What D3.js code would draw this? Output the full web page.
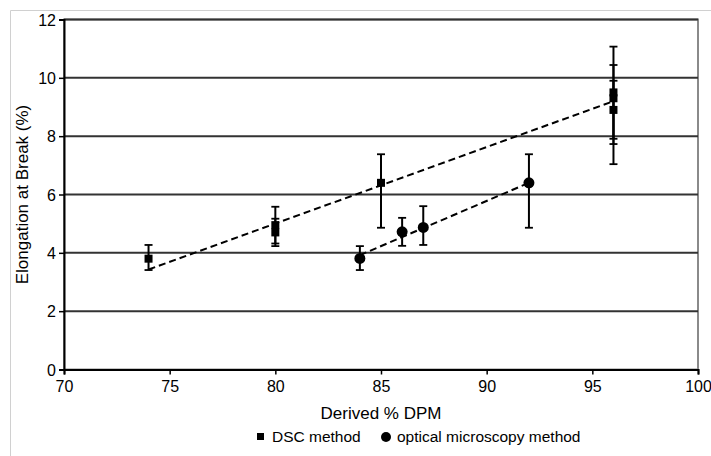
<!DOCTYPE html>
<html><head><meta charset="utf-8">
<script src="https://cdn.jsdelivr.net/npm/d3@7"></script>
<style>body{margin:0;background:#fff}svg{display:block;font-family:"Liberation Sans",Arial,sans-serif}</style>
</head><body><svg id="c" width="711" height="456"></svg>
<script>
// DSC method
const dscX  = [74, 80, 80, 85, 96, 96, 96];
const dscY  = [3.8, 4.95, 4.7, 6.4, 9.5, 9.3, 8.9];
const dscLo = [3.41, 4.32, 4.23, 4.86, 7.91, 7.73, 7.04];
const dscHi = [4.27, 5.58, 5.17, 7.38, 11.07, 10.44, 9.9];
// optical microscopy method
const optX  = [84, 86, 87, 92];
const optY  = [3.81, 4.72, 4.87, 6.4];
const optLo = [3.41, 4.24, 4.27, 4.86];
const optHi = [4.23, 5.2, 5.6, 7.38];
// trend lines (endpoints)
const dscTrendX = [74, 96], dscTrendY = [3.43, 9.2];
const optTrendX = [84, 92], optTrendY = [3.92, 6.4];
const xTicks = [70, 75, 80, 85, 90, 95, 100];
const yTicks = [0, 2, 4, 6, 8, 10, 12];
const legendLabels = ["DSC method", "optical microscopy method"];

const svg = d3.select("#c");
const L = 64, R = 698, T = 19.5, B = 369.5;
const x = d3.scaleLinear().domain([70, 100]).range([L, R]);
const y = d3.scaleLinear().domain([0, 12]).range([B, T]);

// outer frame
svg.append("path").attr("d", `M10.5,456 V10.5 H711`).attr("fill","none").attr("stroke","#d0d0d0").attr("stroke-width",1);

// plot border
svg.append("rect").attr("x", L).attr("y", T).attr("width", R - L).attr("height", B - T)
  .attr("fill","none").attr("stroke","#8a8a8a").attr("stroke-width",2);

// gridlines
svg.append("g").selectAll("line").data(yTicks.filter(d => d > 0)).join("line")
  .attr("x1", L).attr("x2", R).attr("y1", d => y(d)).attr("y2", d => y(d))
  .attr("stroke", "#333").attr("stroke-width", 2);

// axes
const yAxis = svg.append("g").attr("transform", `translate(${L},0)`)
  .call(d3.axisLeft(y).tickValues(yTicks).tickSize(5).tickPadding(3).tickFormat(d3.format("d")));
const xAxis = svg.append("g").attr("transform", `translate(0,${B})`)
  .call(d3.axisBottom(x).tickValues(xTicks).tickSize(5).tickPadding(6).tickFormat(d3.format("d")));
[yAxis, xAxis].forEach(g => {
  g.select(".domain").attr("stroke", "#000").attr("stroke-width", 2);
  g.selectAll(".tick line").attr("stroke", "#000").attr("stroke-width", 1.5);
  g.selectAll(".tick text").attr("fill", "#000").style("font-size", "16px")
   .style("font-family", "Liberation Sans, Arial, sans-serif");
});
yAxis.selectAll(".tick text").attr("dy", "0.36em");

// axis titles
svg.append("text").attr("x", x(85)).attr("y", 419).attr("text-anchor", "middle")
  .style("font-size", "17px").text("Derived % DPM");
svg.append("text").attr("transform", `translate(28,${(T + B) / 2}) rotate(-90)`)
  .attr("text-anchor", "middle").style("font-size", "17px").text("Elongation at Break (%)");

// trend lines
const line = d3.line().x(d => x(d[0])).y(d => y(d[1]));
svg.append("path").attr("d", line(d3.zip(dscTrendX, dscTrendY)))
  .attr("fill","none").attr("stroke","#000").attr("stroke-width",2).attr("stroke-dasharray","7,4");
svg.append("path").attr("d", line(d3.zip(optTrendX, optTrendY)))
  .attr("fill","none").attr("stroke","#000").attr("stroke-width",2).attr("stroke-dasharray","7,4");

// error bars
function errBars(xs, lo, hi) {
  const g = svg.append("g").attr("stroke", "#000");
  xs.forEach((xv, i) => {
    g.append("line").attr("x1", x(xv)).attr("x2", x(xv)).attr("y1", y(lo[i])).attr("y2", y(hi[i])).attr("stroke-width", 2);
    [lo[i], hi[i]].forEach(v => g.append("line").attr("x1", x(xv) - 4).attr("x2", x(xv) + 4)
      .attr("y1", y(v)).attr("y2", y(v)).attr("stroke-width", 1.8));
  });
}
errBars(dscX, dscLo, dscHi);
errBars(optX, optLo, optHi);

// markers
svg.append("g").selectAll("rect").data(d3.zip(dscX, dscY)).join("rect")
  .attr("x", d => x(d[0]) - 4).attr("y", d => y(d[1]) - 4).attr("width", 8).attr("height", 8).attr("fill", "#000");
svg.append("g").selectAll("circle").data(d3.zip(optX, optY)).join("circle")
  .attr("cx", d => x(d[0])).attr("cy", d => y(d[1])).attr("r", 5.5).attr("fill", "#000");

// legend
const lg = svg.append("g").style("font-size", "15.5px");
lg.append("rect").attr("x", 257).attr("y", 433).attr("width", 7).attr("height", 7).attr("fill", "#000");
lg.append("text").attr("x", 272).attr("y", 442).text(legendLabels[0]);
lg.append("circle").attr("cx", 386).attr("cy", 437).attr("r", 5).attr("fill", "#000");
lg.append("text").attr("x", 397).attr("y", 442).text(legendLabels[1]);
</script></body></html>
